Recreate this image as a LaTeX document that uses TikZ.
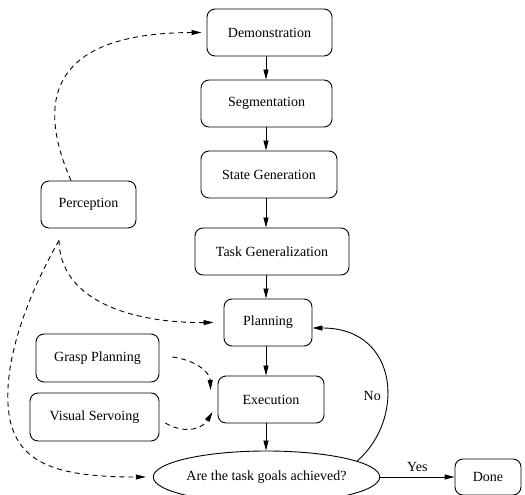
\documentclass[tikz,border=0pt]{standalone}
\usepackage{fontspec}
\setmainfont{Liberation Serif}
\usetikzlibrary{arrows.meta,shapes.geometric}

\begin{document}
\begin{tikzpicture}[x=1pt,y=1pt,line width=0.9pt,
      >={Triangle[length=10pt,width=5pt]},
      flow/.style={->},
      hint/.style={->,dash pattern=on 5pt off 4pt},
      lbl/.style={draw=none,minimum height=0pt,inner sep=1pt}]
      \tikzstyle{every node}=[rectangle,draw,rounded corners=8pt,
        minimum height=47pt,font=\fontsize{14}{16}\selectfont]
      \clip (0,0) rectangle (525,495);
      \coordinate (Axis) at (266,0);
      \node[minimum width=125pt] (Demo) at (269.5,462.5) {Demonstration};
      \node[minimum width=131pt] (Seg) at (266.5,391.5) {Segmentation};
      \node[minimum width=136pt] (State) at (269,320.5) {State Generation};
      \node[minimum width=154pt] (Task) at (272,243.5) {Task Generalization};
      \node[minimum width=95pt] (Perc) at (88.5,290.5) {Perception};
      \node[minimum width=88pt] (Plan) at (268,172.5) {Planning};
      \node[minimum width=123pt,minimum height=48pt] (Grasp) at (97.5,137) {Grasp Planning};
      \node[minimum width=129pt,minimum height=48pt] (Visual) at (94.5,78) {Visual Servoing};
      \node[minimum width=106pt] (Exec) at (271,95.5) {Execution};
      \node[ellipse,minimum width=213pt,minimum height=52pt,inner sep=0pt] (Goal) at (266.5,18)
        {Are the task goals achieved?};
      \node[minimum width=66pt,minimum height=36pt] (Done) at (488,18) {Done};

      \draw[flow] (Demo.south -| Axis) -- (Seg.north -| Axis);
      \draw[flow] (Seg.south -| Axis) -- (State.north -| Axis);
      \draw[flow] (State.south -| Axis) -- (Task.north -| Axis);
      \draw[flow] (Task.south -| Axis) -- (Plan.north -| Axis);
      \draw[flow] (Plan.south -| Axis) -- (Exec.north -| Axis);
      \draw[flow] (Exec.south -| Axis) -- (Goal.north -| Axis);
      \draw[flow] (Goal.east) -- (Done.west) node[midway,above=4pt,lbl] {Yes};
      \draw[flow] (Goal.10) .. controls (405,75) and (400,167) .. ([yshift=-5.5pt]Plan.east)
        node[pos=0.4,left=5pt,lbl] {No};

      \draw[hint] ([xshift=-17.5pt]Perc.north) .. controls (40,385) and (40,462) .. ([xshift=-5pt]Demo.west);
      \draw[hint] ([xshift=-29.5pt,yshift=-12pt]Perc.south) .. controls (60,195) and (130,172) .. ([xshift=-10pt]Plan.west);
      \draw[hint] ([xshift=-29.5pt,yshift=-12pt]Perc.south) .. controls (25,195) and (0,125) .. (10,75)
        .. controls (20,30) and (60,18) .. ([xshift=-7pt]Goal.west);
      \draw[hint] ([xshift=13pt,yshift=1pt]Grasp.east) .. controls (195,135) and (210,123) .. ([xshift=-7pt,yshift=9.5pt]Exec.west);
      \draw[hint] ([xshift=6pt,yshift=-6pt]Visual.east) .. controls (180,63) and (200,63) .. ([xshift=-5pt,yshift=-12.5pt]Exec.west);
      \end{tikzpicture}
\end{document}
